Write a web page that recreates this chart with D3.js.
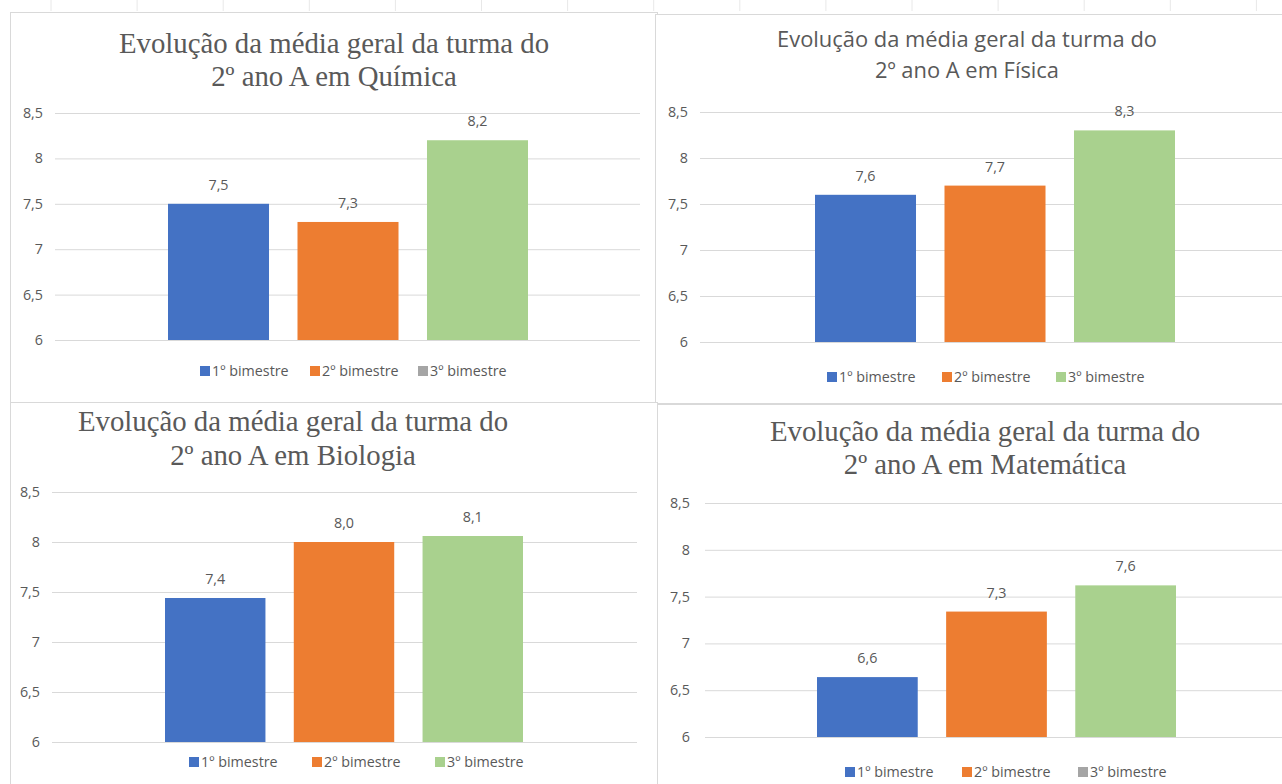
<!DOCTYPE html>
<html lang="pt-BR">
<head>
<meta charset="utf-8">
<script src="https://cdn.jsdelivr.net/npm/d3@7/dist/d3.min.js"></script>
<style>
  html, body { margin: 0; padding: 0; background: #ffffff; }
  svg { display: block; }
</style>
</head>
<body>
<svg id="chart" width="1282" height="784"></svg>
<script>
// Médias gerais da turma do 2º ano A, por disciplina e bimestre
const seriesNames = ["1º bimestre", "2º bimestre", "3º bimestre"];
const quimicaValues = [7.5, 7.3, 8.2];
const fisicaValues = [7.6, 7.7, 8.3];
const biologiaValues = [7.44, 8.0, 8.06];
const matematicaValues = [6.64, 7.34, 7.62];
const yTicks = [6, 6.5, 7, 7.5, 8, 8.5];
const titleLine1 = "Evolução da média geral da turma do";
const quimicaTitle2 = "2º ano A em Química";
const fisicaTitle2 = "2º ano A em Física";
const biologiaTitle2 = "2º ano A em Biologia";
const matematicaTitle2 = "2º ano A em Matemática";

const barColors = ["#4472C4", "#ED7D31", "#A9D18E"];
const textColor = "#595959";
const gridColor = "#D9D9D9";
const SANS = "'Open Sans', 'Noto Sans', sans-serif";
const SERIF = "'Liberation Serif', 'DejaVu Serif', serif";
const LABEL_SIZE = "14.3px";

const ptBR = d3.formatLocale({ decimal: ",", thousands: ".", grouping: [3], currency: ["R$", ""] });
const tickFmt = ptBR.format("~g");
const valueFmt = ptBR.format(".1f");

const svg = d3.select("#chart");

// Linhas de colunas da planilha ao fundo
const sheet = svg.append("g");
sheet.selectAll("line.col")
  .data(d3.range(51, 1282, 86.1))
  .join("line")
  .attr("x1", d => d).attr("x2", d => d)
  .attr("y1", 0).attr("y2", 11)
  .attr("stroke", "#e8e8e8").attr("stroke-width", 1);

const panels = [
  { values: quimicaValues, title2: quimicaTitle2, serif: true, titleSize: 28.8,
    box: [10, 12, 647, 390], titleX: 334, titleY: [53, 86],
    plotX: [55, 640], plotY: [340, 113], labelX: 43, group: [168, 528],
    legendY: 371, legendX: [200, 310, 418], legendThird: "#A5A5A5" },
  { values: fisicaValues, title2: fisicaTitle2, serif: false, titleSize: 21.9,
    box: [655, 14, 660, 389], titleX: 967, titleY: [47, 78],
    plotX: [700, 1282], plotY: [342, 112], labelX: 688, group: [815, 1175],
    legendY: 377, legendX: [827, 942, 1056], legendThird: "#A9D18E" },
  { values: biologiaValues, title2: biologiaTitle2, serif: true, titleSize: 28.8,
    box: [10, 402, 647, 400], titleX: 293, titleY: [431, 465],
    plotX: [52, 637], plotY: [742, 492], labelX: 40, group: [165, 523],
    legendY: 762, legendX: [189, 312, 435], legendThird: "#A9D18E" },
  { values: matematicaValues, title2: matematicaTitle2, serif: true, titleSize: 28.8,
    box: [657, 404, 660, 400], titleX: 985, titleY: [441, 474],
    plotX: [705, 1282], plotY: [737, 503], labelX: 690, group: [817, 1176],
    legendY: 772, legendX: [845, 962, 1078], legendThird: "#A5A5A5" }
];

panels.forEach(p => {
  const g = svg.append("g");

  // moldura do gráfico
  g.append("rect")
    .attr("x", p.box[0] + 0.5).attr("y", p.box[1] + 0.5)
    .attr("width", p.box[2]).attr("height", p.box[3])
    .attr("fill", "#ffffff").attr("stroke", gridColor).attr("stroke-width", 1);

  // título em duas linhas
  const title = g.append("text")
    .attr("text-anchor", "middle")
    .attr("fill", textColor)
    .style("font-family", p.serif ? SERIF : SANS)
    .style("font-size", p.titleSize + "px");
  [titleLine1, p.title2].forEach((t, i) => {
    title.append("tspan").attr("x", p.titleX).attr("y", p.titleY[i]).text(t);
  });

  const y = d3.scaleLinear().domain([6, 8.5]).range(p.plotY);
  const x = d3.scaleBand().domain(seriesNames).range(p.group).paddingInner(0.22);

  // grade horizontal e rótulos do eixo
  const axis = d3.axisLeft(y).tickValues(yTicks).tickFormat(tickFmt)
    .tickSize(-(p.plotX[1] - p.plotX[0])).tickPadding(p.plotX[0] - p.labelX);
  const ax = g.append("g")
    .attr("transform", `translate(${p.plotX[0]},0)`)
    .call(axis);
  ax.select(".domain").remove();
  ax.selectAll(".tick line").attr("stroke", gridColor).attr("stroke-width", 1);
  ax.selectAll(".tick text")
    .attr("fill", textColor)
    .style("font-family", SANS).style("font-size", LABEL_SIZE);

  // barras
  g.selectAll("rect.bar")
    .data(p.values)
    .join("rect")
    .attr("class", "bar")
    .attr("x", (d, i) => x(seriesNames[i]))
    .attr("width", x.bandwidth())
    .attr("y", d => y(d))
    .attr("height", d => y(6) - y(d))
    .attr("fill", (d, i) => barColors[i]);

  // rótulos de valor
  g.selectAll("text.val")
    .data(p.values)
    .join("text")
    .attr("class", "val")
    .attr("x", (d, i) => x(seriesNames[i]) + x.bandwidth() / 2)
    .attr("y", d => y(d) - 14)
    .attr("text-anchor", "middle")
    .attr("fill", textColor)
    .style("font-family", SANS).style("font-size", LABEL_SIZE)
    .text(d => valueFmt(d));

  // legenda
  const legendColors = [barColors[0], barColors[1], p.legendThird];
  const items = g.selectAll("g.leg")
    .data(seriesNames)
    .join("g")
    .attr("class", "leg")
    .attr("transform", (d, i) => `translate(${p.legendX[i]},${p.legendY})`);
  items.append("rect")
    .attr("x", 0).attr("y", -5).attr("width", 10).attr("height", 10)
    .attr("fill", (d, i) => legendColors[i]);
  items.append("text")
    .attr("x", 12).attr("y", 0).attr("dy", "0.35em")
    .attr("fill", textColor)
    .style("font-family", SANS).style("font-size", LABEL_SIZE)
    .text(d => d);
});
</script>
</body>
</html>
